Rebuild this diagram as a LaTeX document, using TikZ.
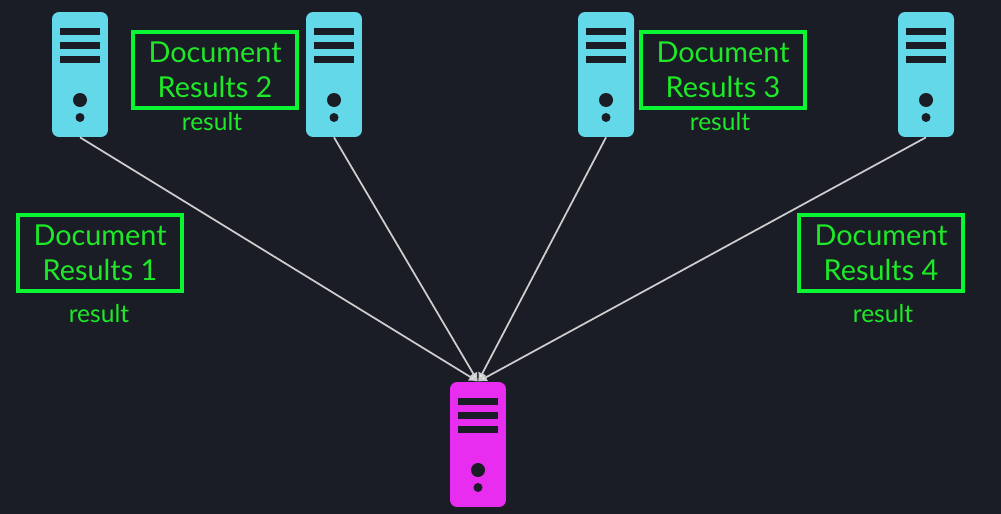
\documentclass[tikz,border=0pt]{standalone}
\usepackage{fontspec}
\setmainfont{Lato}
\usepackage{xcolor}
\usetikzlibrary{arrows.meta, positioning}
\definecolor{darkbg}{RGB}{26,28,38}
\definecolor{servercyan}{RGB}{98,216,232}
\definecolor{servermagenta}{RGB}{233,45,240}
\definecolor{boxgreen}{RGB}{10,245,50}
\definecolor{textgreen}{RGB}{30,232,40}
\definecolor{linkgray}{RGB}{205,205,205}

\begin{document}
\begin{tikzpicture}[
        x=0.02cm, y=-0.02cm,
        server/.style={rounded corners=0.14cm, fill=#1, minimum width=1.12cm, minimum height=2.5cm,
            path picture={
                \foreach \barpos in {-43,-29,-15}
                    \fill[darkbg, sharp corners, shift={(path picture bounding box.center)}] (-20,\barpos-3.5) rectangle (20,\barpos+3.5);
                \fill[darkbg, sharp corners, shift={(path picture bounding box.center)}] (0,25.5) circle (7);
                \fill[darkbg, sharp corners, shift={(path picture bounding box.center)}] (0,43) circle (4.5);
            }},
        docbox/.style={draw=boxgreen, line width=0.07cm, align=center, text=textgreen, font=\fontsize{16.4}{19.8}\selectfont, minimum width=3.28cm, minimum height=1.52cm, inner sep=0pt, execute at begin node={\rule{0pt}{14.5pt}}},
        resultlabel/.style={text=textgreen, font=\fontsize{14}{16}\selectfont, inner sep=0pt},
        link/.style={-{Latex[length=0.18cm, width=0.18cm, fill=white]}, linkgray, line width=0.035cm}
    ]
        \useasboundingbox[fill=darkbg] (0,0) rectangle (1001,514);

        \node[server=servercyan] (srva) at (80,74.5) {};
        \node[server=servercyan] (srvb) at (334,74.5) {};
        \node[server=servercyan] (srvc) at (606,74.5) {};
        \node[server=servercyan] (srvd) at (926,74.5) {};
        \node[server=servermagenta] (hub) at (478,444.5) {};

        \node[docbox] (doca) at (100,253) {Document\\Results 1};
        \node[docbox] (docb) at (215,70) {Document\\Results 2};
        \node[docbox] (docc) at (723,70) {Document\\Results 3};
        \node[docbox] (docd) at (881,253) {Document\\Results 4};

        \node[resultlabel] (resa) at (99,314) {result};
        \node[resultlabel] (resb) at (212,122) {result};
        \node[resultlabel] (resc) at (720,122) {result};
        \node[resultlabel] (resd) at (883,314) {result};

        \draw[link] (srva.south) -- (hub.north);
        \draw[link] (srvb.south) -- (hub.north);
        \draw[link] (srvc.south) -- (hub.north);
        \draw[link] (srvd.south) -- (hub.north);
    \end{tikzpicture}
\end{document}
